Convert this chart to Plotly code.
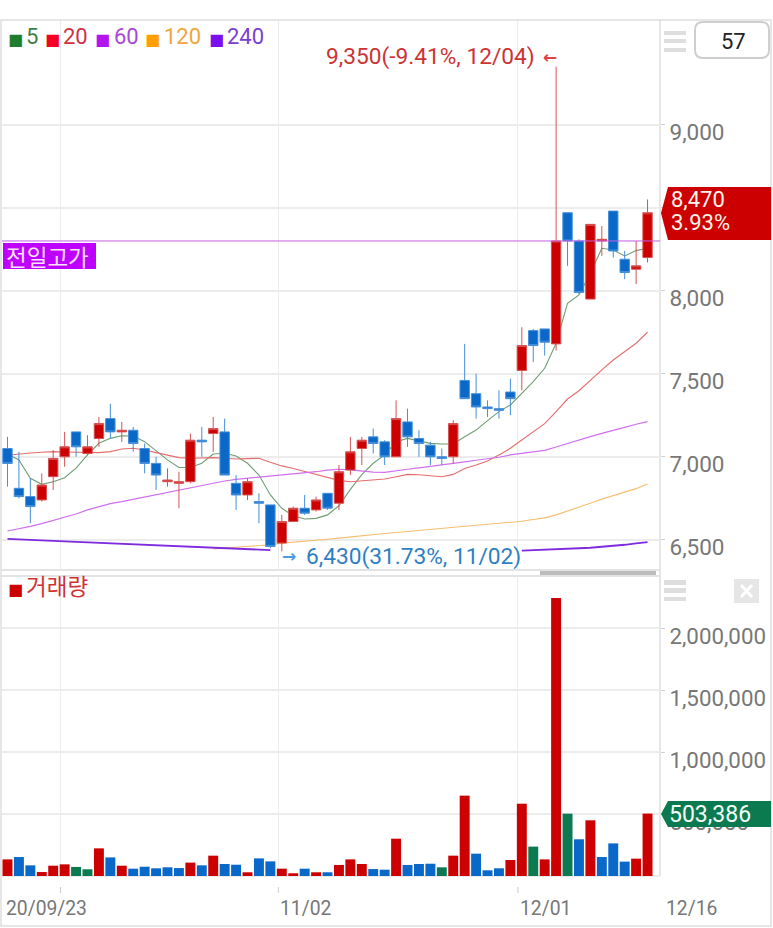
import plotly.graph_objects as go

W = 773
H = 928

# daily candles
opens = [7050, 6810, 6760, 6740, 6880, 7000, 7150, 7020, 7110, 7230, 7150, 7160, 7050, 6960, 6850, 6840, 6850, 7100, 7140,
         7150, 6840, 6770, 6730, 6710, 6480, 6610, 6690, 6680, 6780, 6720, 6920, 7050, 7120, 7090, 7000, 7210, 7110, 7070,
         7000, 7000, 7460, 7380, 7300, 7290, 7390, 7520, 7760, 7770, 7680, 8470, 8300, 7950, 8300, 8480, 8190, 8130, 8200]
highs = [7120, 7030, 6870, 6900, 7040, 7150, 7150, 7130, 7240, 7320, 7210, 7180, 7080, 7000, 6930, 6910, 7140, 7180, 7240,
         7230, 6890, 6870, 6780, 6710, 6650, 6700, 6770, 6760, 6780, 6950, 7120, 7120, 7170, 7100, 7340, 7290, 7160, 7090,
         7050, 7220, 7680, 7500, 7340, 7400, 7470, 7780, 7770, 7770, 9350, 8470, 8310, 8400, 8390, 8480, 8240, 8300, 8550]
lows = [6820, 6750, 6600, 6730, 6800, 6940, 7000, 7010, 7060, 7110, 7090, 7030, 6900, 6800, 6820, 6690, 6840, 7000, 7030,
        6890, 6680, 6740, 6600, 6450, 6430, 6610, 6650, 6670, 6680, 6680, 6890, 6950, 7020, 6950, 7000, 7060, 7000, 6950,
        6950, 6960, 7350, 7230, 7240, 7230, 7250, 7400, 7570, 7610, 7640, 8150, 7980, 7950, 8210, 8200, 8070, 8040, 8170]
closes = [6960, 6760, 6700, 6830, 6990, 7060, 7060, 7060, 7200, 7150, 7160, 7080, 6960, 6890, 6860, 6850, 7100, 7090, 7170,
          6890, 6770, 6850, 6720, 6460, 6610, 6690, 6660, 6740, 6690, 6910, 7030, 7100, 7080, 7000, 7230, 7120, 7080, 7000,
          6990, 7200, 7350, 7300, 7290, 7280, 7350, 7670, 7670, 7690, 8300, 8300, 7990, 8400, 8310, 8240, 8110, 8150, 8470]

# moving averages
ma5 = [7017, 6981, 6870, 6834, 6850, 6874, 6931, 7011, 7081, 7111, 7127, 7125, 7091, 7037, 6981, 6935, 6935, 6961, 7017,
       7021, 7005, 6961, 6890, 6770, 6690, 6645, 6625, 6629, 6650, 6705, 6804, 6892, 6961, 7011, 7091, 7111, 7095, 7081,
       7077, 7077, 7121, 7161, 7218, 7272, 7312, 7382, 7453, 7533, 7684, 7925, 7975, 8105, 8256, 8246, 8210, 8242, 8256]
ma20 = [7009, 7017, 7023, 7027, 7031, 7029, 7029, 7029, 7025, 7031, 7047, 7051, 7041, 7025, 7009, 6995, 6991, 6993, 6995,
        6991, 6987, 6989, 6991, 6967, 6945, 6929, 6911, 6892, 6874, 6858, 6850, 6854, 6860, 6866, 6880, 6894, 6892, 6886,
        6880, 6894, 6930, 6951, 6975, 7011, 7051, 7101, 7152, 7200, 7272, 7348, 7398, 7463, 7523, 7583, 7633, 7684, 7750]
ma60 = [6553, 6565, 6581, 6597, 6617, 6635, 6655, 6680, 6700, 6718, 6730, 6744, 6760, 6774, 6788, 6800, 6816, 6830, 6842,
        6854, 6864, 6870, 6876, 6882, 6890, 6896, 6902, 6910, 6920, 6925, 6921, 6913, 6908, 6906, 6917, 6925, 6933, 6941,
        6949, 6961, 6969, 6979, 6987, 6997, 7011, 7019, 7027, 7039, 7059, 7081, 7099, 7121, 7141, 7161, 7177, 7196, 7212]
ma120 = [None] * 18 + [6445, 6450, 6455, 6460, 6465, 6470, 6480, 6485, 6490, 6497, 6503, 6510, 6518, 6525, 6532, 6538, 6544,
                       6550, 6556, 6561, 6566, 6572, 6578, 6584, 6590, 6597, 6604, 6612, 6622, 6632, 6650, 6672, 6695, 6720,
                       6745, 6765, 6785, 6808, 6836]
# the low label sits on top of the 240 line, so it is not readable between 11/02 and 12/01
ma240 = [6505, 6503, 6500, 6497, 6493, 6490, 6487, 6484, 6481, 6478, 6476, 6473, 6470, 6468, 6465, 6462, 6459, 6456, 6453,
         6451, 6448, 6445, 6441, 6438] + [None] * 21 + [6435, 6437, 6439, 6442, 6445, 6449, 6452, 6457, 6463, 6470, 6478, 6486]

volumes = [134000, 153000, 86000, 32000, 83000, 94000, 73000, 54000, 223000, 150000, 83000, 59000, 75000, 62000, 70000,
           64000, 108000, 86000, 164000, 97000, 91000, 30000, 142000, 118000, 59000, 22000, 59000, 30000, 30000, 89000,
           134000, 97000, 56000, 51000, 301000, 89000, 97000, 99000, 70000, 164000, 648000, 180000, 46000, 62000, 129000,
           583000, 237000, 134000, 2242000, 503000, 296000, 449000, 153000, 263000, 116000, 140000, 503386]
volume_kinds = ["up", "down", "down", "up", "up", "up", "flat", "flat", "up", "down", "up", "down", "down", "down", "down",
                "down", "up", "down", "up", "down", "down", "up", "down", "down", "up", "up", "down", "up", "down", "up",
                "up", "up", "down", "down", "up", "down", "down", "down", "flat", "up", "up", "down", "down", "down", "up",
                "up", "flat", "up", "up", "flat", "down", "up", "down", "down", "down", "up", "up"]

price_ticks = [6500, 7000, 7500, 8000, 8500, 9000]
price_labels = ["6,500", "7,000", "7,500", "8,000", "", "9,000"]
volume_ticks = [500000, 1000000, 1500000, 2000000]
volume_labels = ["500,000", "1,000,000", "1,500,000", "2,000,000"]
date_ticks = [4.64, 23.7, 44.66, 57.64]
date_labels = ["20/09/23", "11/02", "12/01", "12/16"]
ma_names = ["5", "20", "60", "120", "240"]
prev_high = 8300

RED = "#CC0000"
BLUE = "#0968C8"
GREEN = "#0B7A50"
GRID = "#ECECEC"
FRAME = "#DEDEDE"
KIND_COLORS = {"up": RED, "down": BLUE, "flat": GREEN}
FONT = "Roboto, sans-serif"
KR_FONT = "'Noto Sans CJK KR', sans-serif"


def px(x):
    return x / W


def py(y):
    return 1 - y / H


def label(x, y, text, color, size, anchor="left", family=FONT):
    return dict(x=px(x), y=py(y), xref="paper", yref="paper", text=text, showarrow=False, xanchor=anchor, yanchor="middle",
                font=dict(family=family, size=size, color=color), borderpad=0, borderwidth=0)


def rect(x0, y0, x1, y1, fill, line="rgba(0,0,0,0)", width=0):
    return dict(type="rect", xref="paper", yref="paper", x0=px(x0), x1=px(x1), y0=py(y0), y1=py(y1), fillcolor=fill,
                line=dict(color=line, width=width), layer="above")


def poly(points, fill):
    path = "M " + " L ".join(f"{px(x)} {py(y)}" for x, y in points) + " Z"
    return dict(type="path", xref="paper", yref="paper", path=path, fillcolor=fill, line=dict(width=0), layer="above")


def hline(x0, x1, y, color, width=1):
    return dict(type="line", xref="paper", yref="paper", x0=px(x0), x1=px(x1), y0=py(y), y1=py(y),
                line=dict(color=color, width=width), layer="below")


def vline(x, y0, y1, color, width=1):
    return dict(type="line", xref="paper", yref="paper", x0=px(x), x1=px(x), y0=py(y0), y1=py(y1),
                line=dict(color=color, width=width), layer="below")


xs = list(range(len(closes)))
fig = go.Figure()

for values, color, width in [
    (ma5, "#6E9E74", 1.1),
    (ma20, "#E56D6D", 1.1),
    (ma60, "#D070EE", 1.2),
    (ma120, "#F6BE70", 1.1),
    (ma240, "#7F2BDD", 1.8),
]:
    fig.add_trace(go.Scatter(x=xs, y=values, mode="lines", line=dict(color=color, width=width), yaxis="y", showlegend=False))

fig.add_trace(
    go.Candlestick(
        x=xs, open=opens, high=highs, low=lows, close=closes, yaxis="y3", showlegend=False, whiskerwidth=0,
        increasing=dict(fillcolor=RED, line=dict(color="#D65252", width=1)),
        decreasing=dict(fillcolor=BLUE, line=dict(color="#458FDA", width=1)),
    )
)
fig.add_trace(
    go.Bar(x=xs, y=volumes, marker=dict(color=[KIND_COLORS[k] for k in volume_kinds], line=dict(width=0)), width=0.87,
           yaxis="y2", showlegend=False)
)

price_range = [6318, 9631]
shapes = [
    rect(1, 20, 771, 926, "rgba(0,0,0,0)", FRAME, 1.5),
    hline(1, 660, 570, "#DADADA", 1.5),
    hline(1, 660, 576, "#DADADA", 1.5),
    vline(660, 20, 876, FRAME, 1.5),
    rect(540, 571, 656, 575, "#BDBDBD"),
    rect(664, 31, 686, 35, "#DEDEDE"), rect(664, 39, 686, 43, "#DEDEDE"), rect(664, 48, 686, 52, "#DEDEDE"),
    rect(664, 580, 686, 585, "#DEDEDE"), rect(664, 588, 686, 593, "#DEDEDE"), rect(664, 597, 686, 601, "#DEDEDE"),
    rect(734, 579, 759, 603, "#E6E6E6"),
    dict(type="line", xref="paper", yref="paper", x0=px(741), x1=px(752), y0=py(585), y1=py(597), line=dict(color="white", width=3), layer="above"),
    dict(type="line", xref="paper", yref="paper", x0=px(741), x1=px(752), y0=py(597), y1=py(585), line=dict(color="white", width=3), layer="above"),
    dict(type="path", xref="paper", yref="paper", layer="above", line=dict(color="#CFCFCF", width=2), fillcolor="white",
         path=(f"M {px(703)} {py(22)} L {px(761)} {py(22)} Q {px(769)} {py(22)} {px(769)} {py(30)} "
               f"L {px(769)} {py(50)} Q {px(769)} {py(58)} {px(761)} {py(58)} L {px(703)} {py(58)} "
               f"Q {px(695)} {py(58)} {px(695)} {py(50)} L {px(695)} {py(30)} Q {px(695)} {py(22)} {px(703)} {py(22)} Z")),
    poly([(661, 213), (668, 187), (771, 187), (771, 240), (668, 240)], RED),
    poly([(661, 814), (668, 801), (771, 801), (771, 827), (668, 827)], GREEN),
    rect(3, 243, 96, 269, "#C000FF"),
    dict(type="line", xref="x", yref="y", x0=-0.6, x1=57.09, y0=prev_high, y1=prev_high, line=dict(color="#C55DE8", width=1), layer="above"),
]
for tick in date_ticks[:3]:
    shapes.append(dict(type="line", xref="x", yref="paper", x0=tick, x1=tick, y0=py(887), y1=py(893),
                       line=dict(color="#CCCCCC", width=1), layer="below"))

annotations = [
    label(733, 41, "57", "#222222", 22, "center"),
    label(326, 57, "9,350(-9.41%, 12/04)", "#CC3333", 22.7),
    label(543, 57, "<b>←</b>", "#DD4444", 17, family="DejaVu Sans"),
    label(282, 556, "<b>→</b>", "#4A9BE0", 17, family="DejaVu Sans"),
    label(306, 556, "6,430(31.73%, 11/02)", "#2E7FC4", 22.7),
    label(6, 256, "전일고가", "#F8E0FF", 22.5, family=KR_FONT),
    label(671, 199, "8,470", "#FFF4EA", 22),
    label(671, 222, "3.93%", "#FFF4EA", 22),
    label(669, 814, "503,386", "#F4FFF8", 23),
    label(8, 589, "■", RED, 16, family="DejaVu Sans"),
    label(26, 585, "거래량", "#D03333", 22.5, family=KR_FONT),
]

# legend, square and period text for each moving average
for name, x_square, x_text, square_color, text_color in zip(
    ma_names,
    [8, 45, 95, 145, 209],
    [26, 63, 114, 164, 227],
    ["#1E7E2E", "#F40024", "#B414F0", "#FF9F00", "#7A10F0"],
    ["#3F7F46", "#D0323F", "#A848D8", "#EFA63E", "#7A3FD0"],
):
    annotations.append(label(x_square, 39, "■", square_color, 16, family="DejaVu Sans"))
    annotations.append(label(x_text, 37, name, text_color, 22))

for tick_text, x_text in zip(date_labels, [6, 280, 520, 666]):
    annotations.append(label(x_text, 908, tick_text, "#777777", 19.3))

fig.update_layout(
    width=W,
    height=H,
    autosize=False,
    margin=dict(l=0, r=0, t=0, b=0),
    paper_bgcolor="white",
    plot_bgcolor="white",
    showlegend=False,
    boxgap=0.18,
    boxgroupgap=0,
    shapes=shapes,
    annotations=annotations,
    xaxis=dict(
        domain=[px(2), px(660)], range=[-0.48, 57.09], anchor="y2", tickvals=date_ticks[:3], showticklabels=False, ticks="",
        showgrid=True, gridcolor=GRID, gridwidth=1, zeroline=False, rangeslider=dict(visible=False), showline=False,
    ),
    yaxis=dict(
        domain=[py(570), py(20)], range=price_range, side="right", anchor="x", tickvals=price_ticks, ticktext=price_labels,
        ticks="outside", ticklen=4, tickcolor="#CFCFCF", showgrid=True, gridcolor=GRID, gridwidth=1.5, zeroline=False,
        tickfont=dict(family=FONT, size=22.5, color="#777777"), ticklabelshift=7,
    ),
    yaxis3=dict(range=price_range, overlaying="y", side="right", anchor="x", visible=False),
    yaxis2=dict(
        domain=[py(876), py(576)], range=[0, 2419355], side="right", anchor="x", tickvals=volume_ticks, ticktext=volume_labels,
        ticks="outside", ticklen=4, tickcolor="#CFCFCF", showgrid=True, gridcolor=GRID, gridwidth=1.5, zeroline=True,
        zerolinecolor=GRID, zerolinewidth=1.5, tickfont=dict(family=FONT, size=22.3, color="#777777"), ticklabelshift=8,
    ),
)

# the page's default body margin would push the chart 8px off
fig.write_html(
    "out.html",
    config={"displayModeBar": False},
    post_script="document.body.style.margin = '0'; document.body.style.overflow = 'hidden';",
)
